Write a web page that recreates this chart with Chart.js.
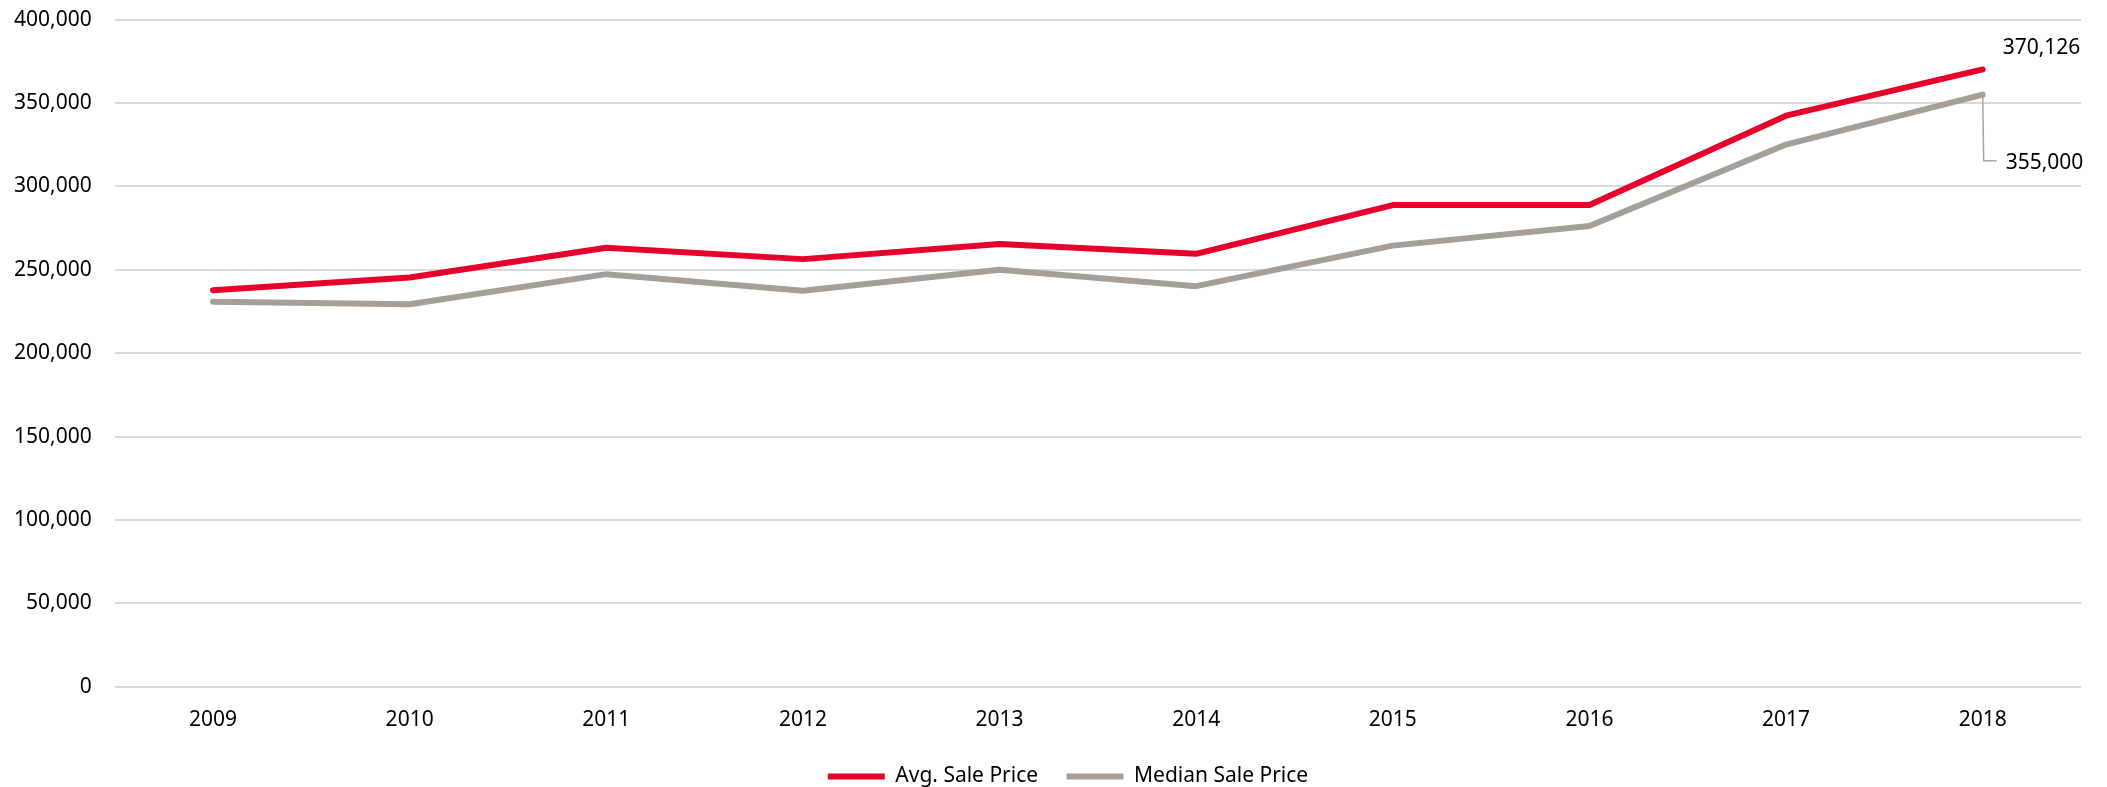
<!DOCTYPE html>
<html>
<head>
<meta charset="utf-8">
<script src="https://cdn.jsdelivr.net/npm/chart.js@4.4.1/dist/chart.umd.min.js"></script>
<style>
  html, body { margin: 0; padding: 0; background: #fff; }
  #wrap { width: 2107px; height: 787px; position: relative; }
</style>
</head>
<body>
<div id="wrap"><canvas id="chart"></canvas></div>
<script>
// data
const years = ["2009", "2010", "2011", "2012", "2013", "2014", "2015", "2016", "2017", "2018"];
const avgSalePrice = [237800, 245400, 263200, 256400, 265500, 259600, 288800, 288800, 342400, 370126];
const medianSalePrice = [230800, 229400, 247400, 237400, 250000, 240200, 264500, 276300, 325100, 355000];

const RED = "#e8002d";
const GRAY = "#a69f98";
const FONT = "'Noto Sans', 'Open Sans', sans-serif";

const fmt = (v) => Number(v).toLocaleString("en-US");

// end-of-line value labels (last point of each series)
const endLabels = {
  id: "endLabels",
  afterDatasetsDraw(chart) {
    const ctx = chart.ctx;
    ctx.save();
    ctx.font = `21px ${FONT}`;
    ctx.fillStyle = "#000";
    ctx.textBaseline = "middle";
    ctx.textAlign = "left";

    // avg: label above-right of the point
    const pA = chart.getDatasetMeta(0).data[avgSalePrice.length - 1];
    ctx.fillText(fmt(avgSalePrice[avgSalePrice.length - 1]), pA.x + 20, pA.y - 21);

    // median: label below-right with leader line
    const pM = chart.getDatasetMeta(1).data[medianSalePrice.length - 1];
    const ly = pM.y + 66;
    ctx.strokeStyle = "#a5a5a5";
    ctx.lineWidth = 1.5;
    ctx.beginPath();
    ctx.moveTo(pM.x, pM.y);
    ctx.lineTo(pM.x + 1, ly);
    ctx.lineTo(pM.x + 14, ly);
    ctx.stroke();
    ctx.fillText(fmt(medianSalePrice[medianSalePrice.length - 1]), pM.x + 23, ly + 2);
    ctx.restore();
  },
};

// legend sits a little right of canvas centre in the original
const legendNudge = {
  id: "legendNudge",
  afterLayout(chart) {
    if (chart.legend) {
      chart.legend.left += 24;
      chart.legend.right += 24;
    }
  },
};

// legend: short thick line swatch, extra gap after the first item
const lineLegend = (chart) =>
  chart.data.datasets.map((ds, i) => ({
    text: i === 0 ? ds.label + "\u00a0\u00a0\u00a0" : ds.label,
    fillStyle: ds.borderColor,
    strokeStyle: ds.borderColor,
    lineWidth: 0,
    hidden: false,
    datasetIndex: i,
    fontColor: "#000",
  }));

new Chart(document.getElementById("chart"), {
  type: "line",
  data: {
    labels: years,
    datasets: [
      {
        label: "Avg. Sale Price",
        data: avgSalePrice,
        borderColor: RED,
        backgroundColor: RED,
        borderWidth: 6,
        pointRadius: 0,
        tension: 0,
        borderCapStyle: "round",
        borderJoinStyle: "round",
      },
      {
        label: "Median Sale Price",
        data: medianSalePrice,
        borderColor: GRAY,
        backgroundColor: GRAY,
        borderWidth: 6,
        pointRadius: 0,
        tension: 0,
        borderCapStyle: "round",
        borderJoinStyle: "round",
      },
    ],
  },
  options: {
    responsive: true,
    maintainAspectRatio: false,
    animation: false,
    layout: { padding: { left: 7, right: 26, top: 0, bottom: -10 } },
    plugins: {
      tooltip: { enabled: false },
      legend: {
        position: "bottom",
        labels: {
          generateLabels: lineLegend,
          boxWidth: 57,
          boxHeight: 6,
          padding: 12,
          color: "#000",
          font: { family: FONT, size: 21 },
        },
      },
    },
    scales: {
      x: {
        offset: true,
        grid: { display: false, drawTicks: false },
        border: { display: false },
        ticks: {
          color: "#000",
          padding: 21,
          maxRotation: 0,
          font: { family: FONT, size: 21 },
        },
      },
      y: {
        min: 0,
        max: 400000,
        grid: {
          color: "#d9d9d9",
          lineWidth: 2,
          drawTicks: true,
          tickLength: 16,
          tickColor: "rgba(0,0,0,0)",
        },
        border: { display: false },
        ticks: {
          stepSize: 50000,
          color: "#000",
          padding: 7,
          font: { family: FONT, size: 21 },
          callback: (v) => fmt(v),
        },
      },
    },
  },
  plugins: [endLabels, legendNudge],
});
</script>
</body>
</html>
